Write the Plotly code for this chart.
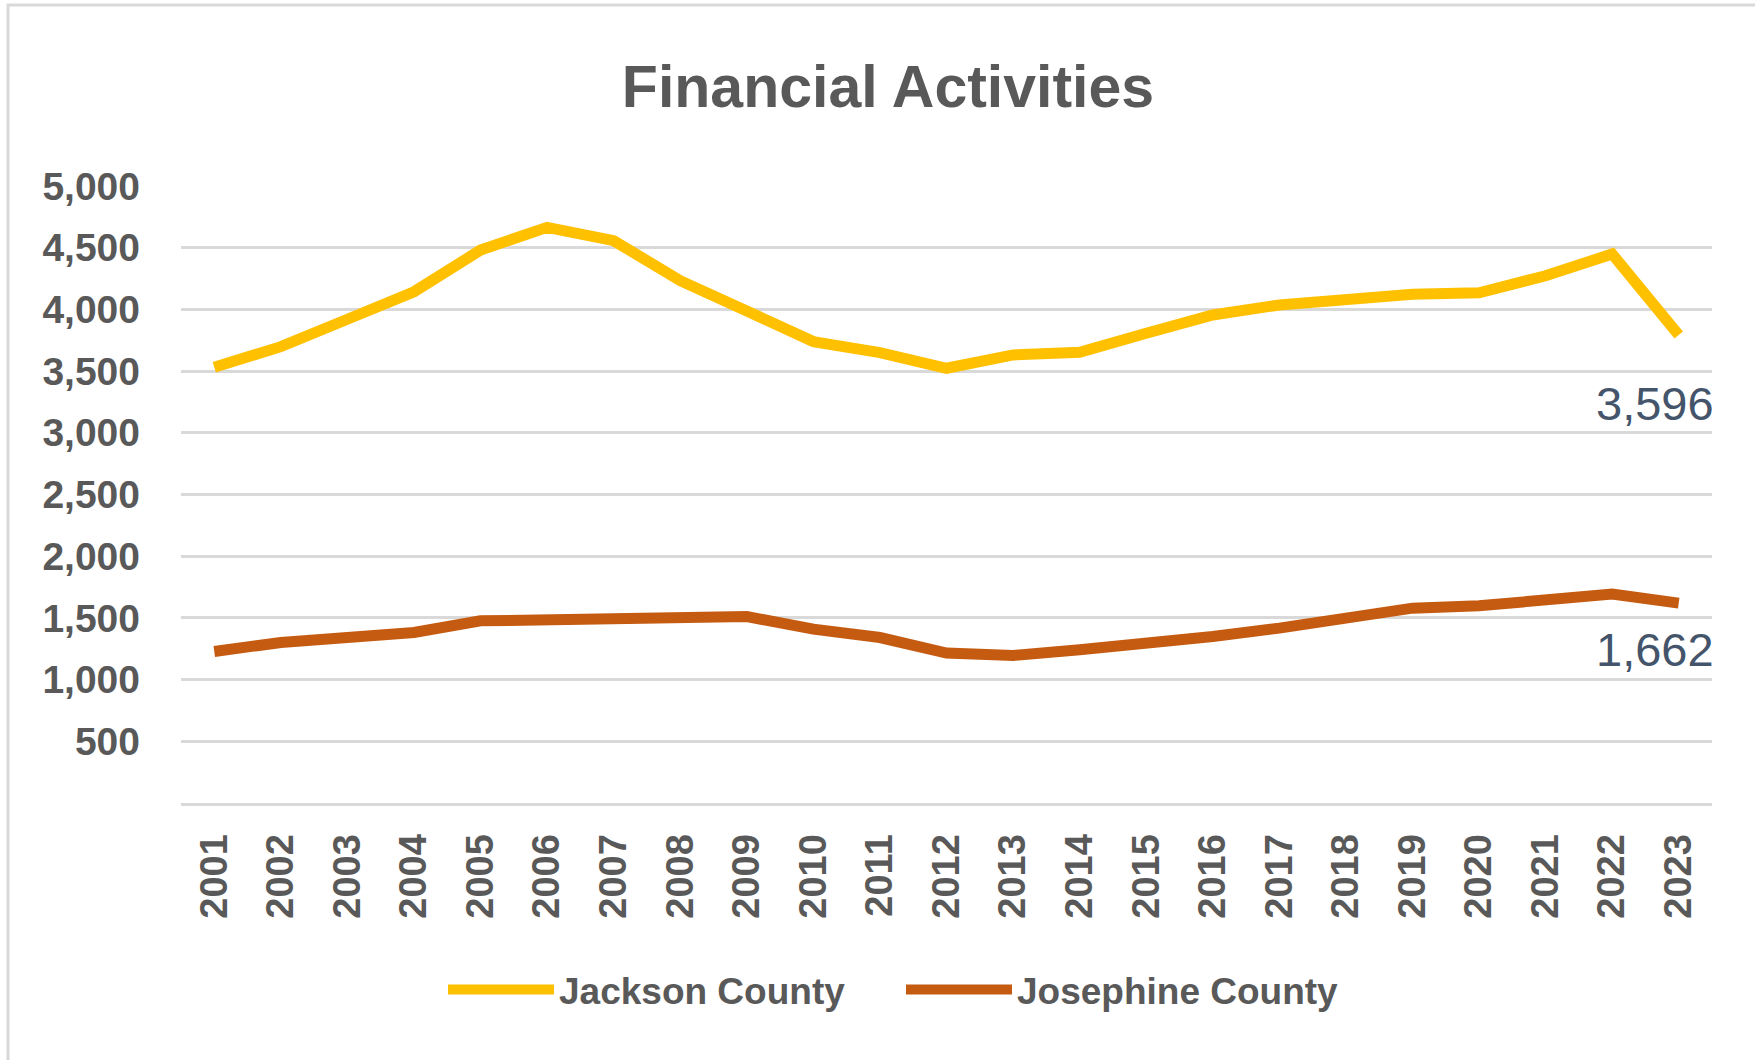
import plotly.graph_objects as go

# ---- data ----
years = [str(y) for y in range(2001, 2024)]
jackson = [3531, 3698, 3920, 4143, 4481, 4665, 4557, 4233, 3987, 3739, 3650, 3523,
           3631, 3653, 3807, 3955, 4036, 4090, 4122, 4135, 4273, 4449, 3793]
josephine = [1228, 1301, 1341, 1382, 1476, 1485, 1511, 1498, 1511, 1409, 1341, 1215,
             1196, 1242, 1290, 1350, 1417, 1490, 1579, 1598, 1638, 1693, 1620]
series_names = ["Jackson County", "Josephine County"]
end_label_values = [3596, 1662]
y_tick_values = [500, 1000, 1500, 2000, 2500, 3000, 3500, 4000, 4500, 5000]

# ---- style ----
colors = ["#FFC000", "#C55A11"]
text_gray = "#595959"
grid_gray = "#D9D9D9"
label_blue = "#44546A"
font_family = "Liberation Sans, Arial, sans-serif"

W, H = 1755, 1060
L, R, T, B = 181, 43, 186, 257

fig = go.Figure()
for name, vals, col in zip(series_names, [jackson, josephine], colors):
    fig.add_trace(go.Scatter(
        x=years, y=vals, name=name, mode="lines",
        line=dict(color=col, width=11, shape="linear"),
        hoverinfo="x+y+name",
    ))

# end-of-series data labels (anchored to the last category index)
last_idx = len(years) - 1
label_shifts = [-69, -46]
for vals, lab, ys in zip([jackson, josephine], end_label_values, label_shifts):
    fig.add_annotation(
        x=last_idx, y=vals[-1], xref="x", yref="y",
        text=f"{lab:,}", showarrow=False,
        xanchor="right", yanchor="middle",
        xshift=37, yshift=ys,
        font=dict(family=font_family, size=47, color=label_blue),
    )

plot_h = H - T - B
plot_w = W - L - R
# outer chart border (top and left visible, rest cropped)
fig.add_shape(
    type="rect", xref="paper", yref="paper",
    x0=(8 - L) / plot_w, x1=(W + 30 - L) / plot_w,
    y0=-(H + 30 - (H - B)) / plot_h, y1=((H - B) - 5) / plot_h,
    line=dict(color=grid_gray, width=3), fillcolor="rgba(0,0,0,0)", layer="below",
)

fig.update_layout(
    width=W, height=H,
    margin=dict(l=L, r=R, t=T, b=B, pad=0),
    paper_bgcolor="white", plot_bgcolor="white",
    title=dict(
        text="<b>Financial Activities</b>",
        x=888 / W, xref="container", xanchor="center",
        y=1 - 86 / H, yref="container", yanchor="middle",
        font=dict(family=font_family, size=59, color=text_gray),
    ),
    legend=dict(
        orientation="h",
        x=(443 - L) / plot_w, xanchor="left",
        y=-(990 - (H - B)) / plot_h, yanchor="middle",
        font=dict(family=font_family, size=37, color=text_gray, weight="bold"),
        itemwidth=106,
        entrywidth=337, entrywidthmode="pixels",
        bgcolor="rgba(0,0,0,0)",
    ),
    showlegend=True,
)

fig.update_xaxes(
    type="category",
    range=[-0.5, len(years) - 0.5],
    showgrid=False,
    showline=True, linecolor=grid_gray, linewidth=3,
    ticks="",
    tickangle=-90,
    tickfont=dict(family=font_family, size=38, color=text_gray, weight="bold"),
    ticklabelstandoff=13,
    zeroline=False,
    automargin=False,
)
fig.update_yaxes(
    range=[0, 5000],
    tickvals=y_tick_values,
    ticktext=[f"{v:,}" for v in y_tick_values],
    showgrid=True, gridcolor=grid_gray, gridwidth=2.5,
    zeroline=False,
    ticks="",
    tickfont=dict(family=font_family, size=39, color=text_gray, weight="bold"),
    ticklabelstandoff=40,
    showline=False,
    automargin=False,
)

fig.write_html("out.html", config={"displayModeBar": False},
               post_script="document.body.style.margin='0px';")
